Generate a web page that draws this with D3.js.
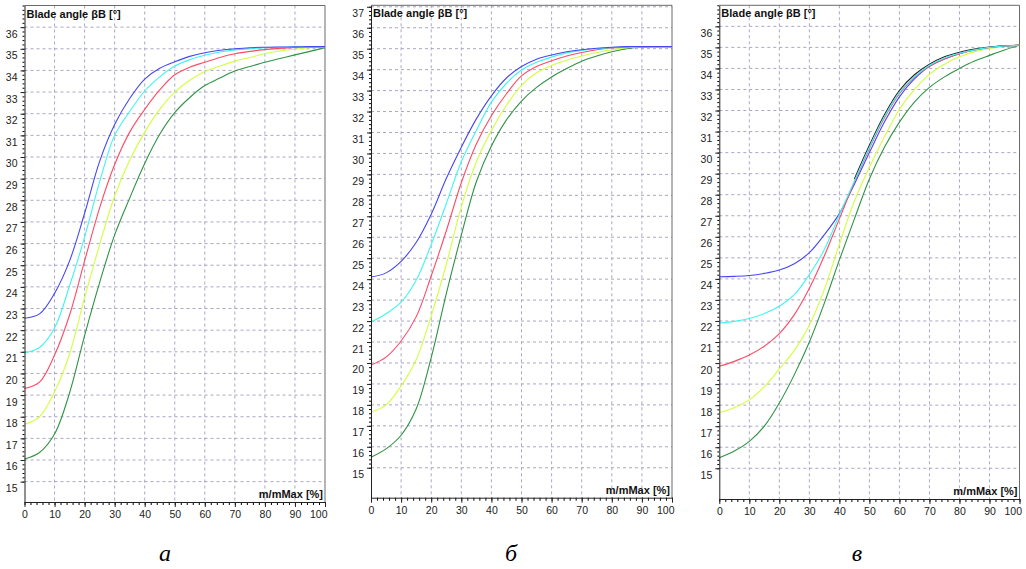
<!DOCTYPE html>
<html>
<head>
<meta charset="utf-8">
<script src="https://cdn.jsdelivr.net/npm/d3@7"></script>
<style>
	body { margin: 0; background: #fff; }
	svg { display: block; }
	text { font-family: "Liberation Sans", Arial, sans-serif; fill: #222; }
</style>
</head>
<body>
<div id="vis"></div>
<script>
// x positions of the read points (m/mMax, %)
const X_VALUES = [0, 5, 10, 15, 20, 25, 30, 35, 40, 45, 50, 55, 60, 65, 70, 75, 80, 85, 90, 95, 100];

// panel a
const A_BLUE   = [22.55, 22.75, 23.7, 25.2, 27.4, 29.8, 31.5, 32.7, 33.6, 34.1, 34.4, 34.65, 34.82, 34.93, 35.0, 35.05, 35.07, 35.08, 35.09, 35.1, 35.1];
const A_CYAN   = [20.95, 21.2, 22.1, 24.05, 26.3, 28.85, 31.0, 32.1, 33.05, 33.7, 34.2, 34.5, 34.7, 34.85, 34.95, 35.0, 35.05, 35.07, 35.08, 35.1, 35.1];
const A_RED    = [19.3, 19.6, 20.85, 22.7, 25.2, 27.65, 29.65, 31.15, 32.2, 33.1, 33.8, 34.15, 34.38, 34.6, 34.77, 34.88, 34.96, 35.02, 35.06, 35.08, 35.1];
const A_YELLOW = [17.65, 18.0, 19.15, 20.9, 23.5, 25.95, 28.2, 29.85, 31.15, 32.2, 33.0, 33.55, 33.95, 34.2, 34.43, 34.6, 34.78, 34.9, 34.98, 35.05, 35.1];
const A_GREEN  = [16.05, 16.35, 17.2, 19.1, 21.75, 24.2, 26.4, 28.1, 29.7, 31.05, 32.05, 32.75, 33.3, 33.65, 33.97, 34.18, 34.38, 34.55, 34.72, 34.88, 35.05];

// panel б
const B_BLUE   = [24.1, 24.3, 24.85, 25.75, 27.1, 28.8, 30.3, 31.65, 32.75, 33.6, 34.15, 34.5, 34.7, 34.85, 34.95, 35.02, 35.07, 35.1, 35.1, 35.1, 35.1];
const B_CYAN   = [21.95, 22.35, 22.9, 23.95, 25.65, 27.6, 29.6, 31.1, 32.45, 33.35, 33.98, 34.35, 34.6, 34.8, 34.92, 35.0, 35.05, 35.08, 35.1, 35.1, 35.1];
const B_RED    = [19.9, 20.28, 21.05, 22.2, 24.15, 26.3, 28.6, 30.45, 31.8, 32.85, 33.7, 34.15, 34.42, 34.65, 34.82, 34.95, 35.03, 35.08, 35.1, 35.1, 35.1];
const B_YELLOW = [17.65, 18.0, 18.9, 20.15, 22.25, 24.7, 27.45, 29.6, 31.1, 32.3, 33.25, 33.85, 34.2, 34.45, 34.65, 34.82, 34.95, 35.05, 35.1, 35.1, 35.1];
const B_GREEN  = [15.5, 15.9, 16.55, 17.8, 20.25, 23.3, 26.1, 28.65, 30.35, 31.6, 32.5, 33.15, 33.65, 34.05, 34.4, 34.65, 34.85, 35.0, 35.08, 35.1, 35.1];

// panel в
const C_BLUE   = [24.1, 24.12, 24.16, 24.26, 24.42, 24.72, 25.25, 26.1, 27.1, 28.5, 30.0, 31.45, 32.65, 33.5, 34.1, 34.45, 34.7, 34.88, 35.0, 35.07, 35.1];
const C_CYAN   = [21.9, 21.98, 22.12, 22.35, 22.7, 23.25, 24.2, 25.4, 27.05, 28.65, 30.25, 31.7, 32.85, 33.6, 34.15, 34.5, 34.72, 34.88, 35.0, 35.07, 35.1];
const C_RED    = [19.85, 20.08, 20.38, 20.8, 21.4, 22.3, 23.55, 25.1, 26.85, 28.6, 30.2, 31.65, 32.8, 33.58, 34.1, 34.45, 34.7, 34.88, 35.0, 35.07, 35.1];
const C_YELLOW = [17.65, 17.88, 18.25, 18.88, 19.72, 20.6, 21.8, 23.5, 25.65, 27.7, 29.3, 30.75, 32.05, 33.0, 33.72, 34.2, 34.55, 34.8, 34.95, 35.05, 35.1];
const C_GREEN  = [15.5, 15.82, 16.28, 17.0, 18.1, 19.45, 21.0, 22.85, 24.9, 26.85, 28.75, 30.25, 31.45, 32.4, 33.1, 33.6, 34.0, 34.35, 34.62, 34.88, 35.1];
const C_BLACK  = [null, null, null, null, null, null, null, null, null, 28.75, 30.35, 31.8, 32.95, 33.7, 34.2, 34.55, 34.77, 34.92, 35.02, 35.08, 35.1];

// tick labels
const X_TICKS = [0, 10, 20, 30, 40, 50, 60, 70, 80, 90, 100];
const Y_TICKS_A = [15, 16, 17, 18, 19, 20, 21, 22, 23, 24, 25, 26, 27, 28, 29, 30, 31, 32, 33, 34, 35, 36];
const Y_TICKS_B = [15, 16, 17, 18, 19, 20, 21, 22, 23, 24, 25, 26, 27, 28, 29, 30, 31, 32, 33, 34, 35, 36, 37];
const Y_TICKS_C = [15, 16, 17, 18, 19, 20, 21, 22, 23, 24, 25, 26, 27, 28, 29, 30, 31, 32, 33, 34, 35, 36];
const CAPTIONS = ["а", "б", "в"];

const Y_TITLE = "Blade angle βB [°]";
const X_TITLE = "m/mMax [%]";

const COLORS = {blue: "#4646f5", cyan: "#3ff5f0", red: "#ff4a64", yellow: "#d2ff3c",
				green: "#2f9343", black: "#202020"};

const FRAME_WIDTH = 1026;
const FRAME_HEIGHT = 569;

const SVG = d3.select("#vis")
				.append("svg")
					.attr("width", FRAME_WIDTH)
					.attr("height", FRAME_HEIGHT);

// layout for every panel (pixel frame and visible y range)
const PANELS = [
	{left: 24.5, right: 325, top: 5.5, bottom: 502, yDomain: [14.06, 37.0], yTicks: Y_TICKS_A,
	 series: [["green", A_GREEN], ["yellow", A_YELLOW], ["red", A_RED], ["cyan", A_CYAN], ["blue", A_BLUE]],
	 caption: CAPTIONS[0], capX: 165},
	{left: 371, right: 672, top: 5.3, bottom: 497.7, yDomain: [13.57, 37.07], yTicks: Y_TICKS_B,
	 series: [["green", B_GREEN], ["yellow", B_YELLOW], ["red", B_RED], ["cyan", B_CYAN], ["blue", B_BLUE]],
	 caption: CAPTIONS[1], capX: 511},
	{left: 719.3, right: 1019.5, top: 5.3, bottom: 499, yDomain: [13.54, 37.0], yTicks: Y_TICKS_C,
	 series: [["green", C_GREEN], ["yellow", C_YELLOW], ["blue", C_BLUE], ["red", C_RED], ["black", C_BLACK], ["cyan", C_CYAN]],
	 caption: CAPTIONS[2], capX: 857}
];

function drawPanel(p) {

	const X_SCALE = d3.scaleLinear()
						.domain([0, 100])
						.range([p.left, p.right]);

	const Y_SCALE = d3.scaleLinear()
						.domain(p.yDomain)
						.range([p.bottom, p.top]);

	const G = SVG.append("g");

	// dashed grid
	G.selectAll(".hgrid")
		.data(p.yTicks)
		.enter().append("line")
			.attr("x1", p.left).attr("x2", p.right)
			.attr("y1", d => Y_SCALE(d)).attr("y2", d => Y_SCALE(d))
			.attr("stroke", "#aaa6c6")
			.attr("stroke-dasharray", "3,3");

	G.selectAll(".vgrid")
		.data(X_TICKS.filter(d => d > 0 && d < 100))
		.enter().append("line")
			.attr("x1", d => X_SCALE(d)).attr("x2", d => X_SCALE(d))
			.attr("y1", p.top).attr("y2", p.bottom)
			.attr("stroke", "#aaa6c6")
			.attr("stroke-dasharray", "3,3");

	// top and right border
	G.append("path")
		.attr("d", "M" + p.left + "," + p.top + "H" + p.right + "V" + p.bottom)
		.attr("fill", "none")
		.attr("stroke", "#6a6a6a");

	// curves
	const LINE = d3.line()
					.defined(d => d[1] !== null)
					.x(d => X_SCALE(d[0]))
					.y(d => Y_SCALE(d[1]))
					.curve(d3.curveCatmullRom.alpha(0.5));

	p.series.forEach(s => {
		G.append("path")
			.datum(X_VALUES.map((x, i) => [x, s[1][i]]))
			.attr("d", LINE)
			.attr("fill", "none")
			.attr("stroke", COLORS[s[0]])
			.attr("stroke-width", 1.1);
	});

	// y axis: minor ticks then labelled major ticks
	const minor = d3.range(p.yTicks[0] * 5, Math.floor(p.yDomain[1] * 5) + 1).map(d => d / 5);
	G.append("g")
		.attr("transform", "translate(" + p.left + ",0)")
		.call(d3.axisLeft(Y_SCALE).tickValues(minor).tickSize(2).tickFormat(""))
		.call(g => g.select(".domain").remove());

	const yAxis = G.append("g")
		.attr("transform", "translate(" + p.left + ",0)")
		.call(d3.axisLeft(Y_SCALE).tickValues(p.yTicks).tickSize(4).tickPadding(3).tickSizeOuter(0));
	yAxis.selectAll("text")
		.attr("dy", "0.95em")
		.style("font-size", "10.5px");

	// x axis
	const xMinor = d3.range(0, 51).map(d => d * 2);
	G.append("g")
		.attr("transform", "translate(0," + p.bottom + ")")
		.call(d3.axisBottom(X_SCALE).tickValues(xMinor).tickSize(3).tickFormat(""))
		.call(g => g.select(".domain").remove());

	const xAxis = G.append("g")
		.attr("transform", "translate(0," + p.bottom + ")")
		.call(d3.axisBottom(X_SCALE).tickValues(X_TICKS).tickSize(5).tickPadding(3.5).tickSizeOuter(0));
	xAxis.selectAll("text")
		.style("font-size", "10.5px");

	// keep the last label inside the frame, as in the original
	xAxis.selectAll("text")
		.filter(d => d === 100)
		.attr("text-anchor", "end")
		.attr("x", 2);

	[yAxis, xAxis].forEach(a => a.selectAll("line, path").attr("stroke", "#222"));

	// titles
	G.append("text")
		.attr("x", p.left + 2)
		.attr("y", p.top + 12)
		.style("font-size", "11px")
		.style("font-weight", "bold")
		.style("fill", "#111")
		.text(Y_TITLE);

	G.append("text")
		.attr("x", p.right - 2)
		.attr("y", p.bottom - 4)
		.attr("text-anchor", "end")
		.style("font-size", "11px")
		.style("font-weight", "bold")
		.style("fill", "#111")
		.text(X_TITLE);

	// panel caption
	G.append("text")
		.attr("x", p.capX)
		.attr("y", 561)
		.attr("text-anchor", "middle")
		.style("font-family", "'Liberation Serif', 'Times New Roman', serif")
		.style("font-style", "italic")
		.style("font-size", "24px")
		.style("fill", "#000")
		.text(p.caption);
}

PANELS.forEach(drawPanel);
</script>
</body>
</html>
